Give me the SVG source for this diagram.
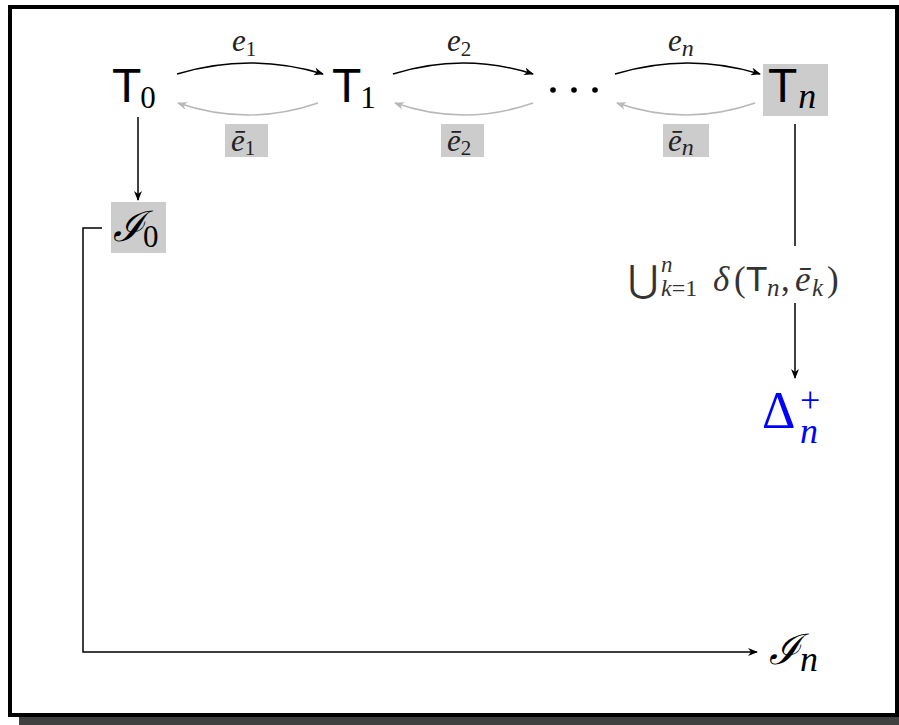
<svg xmlns="http://www.w3.org/2000/svg" width="899" height="725" viewBox="0 0 899 725">
<style>
.sans{font-family:"Liberation Sans",Arial,sans-serif;}
.serif{font-family:"Liberation Serif","Times New Roman",serif;}
.it{font-style:italic;}
.big{font-size:48px;}
.sub{font-size:31px;}
.subn{font-size:36px;}
.lab{font-size:31px;fill:#222;}
.labsub{font-size:21px;}
.box{fill:#cccccc;}
.fw{fill:none;stroke:#000;stroke-width:1.5;marker-end:url(#ah);}
.bw{fill:none;stroke:#b8b8b8;stroke-width:1.5;marker-end:url(#ahg);}
.ln{fill:none;stroke:#000;stroke-width:1.5;}
</style>
<defs>
<marker id="ah" viewBox="0 0 10 8" refX="9" refY="4" markerWidth="10" markerHeight="8" markerUnits="userSpaceOnUse" orient="auto">
<path d="M0,0 L10,4 L0,8 L3,4 Z" fill="#000"/>
</marker>
<marker id="ahg" viewBox="0 0 10 8" refX="9" refY="4" markerWidth="10" markerHeight="8" markerUnits="userSpaceOnUse" orient="auto">
<path d="M0,0 L10,4 L0,8 L3,4 Z" fill="#b8b8b8"/>
</marker>
</defs>
<rect x="0" y="0" width="899" height="725" fill="#fff"/>
<rect x="19" y="16" width="890" height="715" fill="#404040"/>
<rect x="10" y="7" width="887" height="708" fill="#fff" stroke="#000" stroke-width="4"/>

<g id="connectors">
<path class="fw" d="M177,74 Q250,52 323,74"/>
<path class="bw" d="M318,103 Q248,127 178,103"/>
<path class="fw" d="M393,74 Q463,52 533,74"/>
<path class="bw" d="M533,103 Q464,127 395,103"/>
<path class="fw" d="M615,74 Q688,52 760,74"/>
<path class="bw" d="M755,103 Q686,127 617,103"/>
<path class="fw" d="M138,117 L138,200"/>
<path class="ln" d="M795,124 L795,246"/>
<path class="fw" d="M795,303 L795,378"/>
<path class="fw" d="M102,228 L83,228 L83,652 L757,652"/>
</g>

<g id="e1">
<text class="serif it lab" x="232" y="51">e<tspan class="labsub" font-style="normal" dy="5">1</tspan></text>
</g>
<g id="e2">
<text class="serif it lab" x="447" y="51">e<tspan class="labsub" font-style="normal" dy="5">2</tspan></text>
</g>
<g id="en">
<text class="serif it lab" x="668" y="51">e<tspan font-size="24" dy="5">n</tspan></text>
</g>
<g id="e1bar">
<rect class="box" x="225" y="124" width="43" height="33"/>
<text class="serif it lab" x="231" y="151">ē<tspan class="labsub" font-style="normal" dy="4">1</tspan></text>
</g>
<g id="e2bar">
<rect class="box" x="441" y="124" width="43" height="33"/>
<text class="serif it lab" x="447" y="151">ē<tspan class="labsub" font-style="normal" dy="4">2</tspan></text>
</g>
<g id="enbar">
<rect class="box" x="663" y="124" width="46" height="33"/>
<text class="serif it lab" x="668" y="151">ē<tspan font-size="24" dy="4">n</tspan></text>
</g>

<g id="T0">
<text x="112" y="102"><tspan class="sans big">T</tspan><tspan class="serif sub" dx="-1" dy="6">0</tspan></text>
</g>
<g id="T1">
<text x="332" y="102"><tspan class="sans big">T</tspan><tspan class="serif sub" dx="-1" dy="6">1</tspan></text>
</g>
<g id="dots">
<circle cx="553" cy="90" r="2.8"/>
<circle cx="574" cy="90" r="2.8"/>
<circle cx="595" cy="90" r="2.8"/>
</g>
<g id="Tn">
<rect class="box" x="763" y="64" width="65" height="52"/>
<text x="768" y="102"><tspan class="sans big">T</tspan><tspan class="serif it subn" dx="1" dy="6">n</tspan></text>
</g>
<g id="I0">
<rect class="box" x="111" y="202" width="55" height="51"/>
<text x="113" y="241"><tspan class="serif it" font-size="42">ℐ</tspan><tspan class="serif sub" x="143" y="247">0</tspan></text>
</g>
<g id="union">
<rect x="622" y="250" width="226" height="50" fill="#fff"/>
<text y="292" fill="#333"><tspan class="serif" font-size="37" x="628" y="292">⋃</tspan><tspan class="serif it" font-size="23" x="661" y="272">n</tspan><tspan class="serif it" font-size="24" x="661" y="296">k</tspan><tspan class="serif" font-size="24">=1</tspan><tspan class="serif it" font-size="35" x="713" y="291">δ</tspan><tspan class="serif" font-size="35" x="734">(</tspan><tspan class="sans" font-size="35" x="746">T</tspan><tspan class="serif it" font-size="25" x="767" y="296">n</tspan><tspan class="serif" font-size="35" x="781" y="291">,</tspan><tspan class="serif it" font-size="35" x="795">ē</tspan><tspan class="serif it" font-size="25" x="812" y="296">k</tspan><tspan class="serif" font-size="35" x="827" y="291">)</tspan></text>
</g>
<g id="Delta">
<text fill="#0000ff"><tspan class="serif" font-size="52" x="762" y="428">Δ</tspan><tspan class="serif" font-size="36" x="800" y="412">+</tspan><tspan class="serif it" font-size="36" x="800" y="443">n</tspan></text>
</g>
<g id="In">
<text x="769" y="664"><tspan class="serif it" font-size="42">ℐ</tspan><tspan class="serif it subn" dy="7">n</tspan></text>
</g>
</svg>
